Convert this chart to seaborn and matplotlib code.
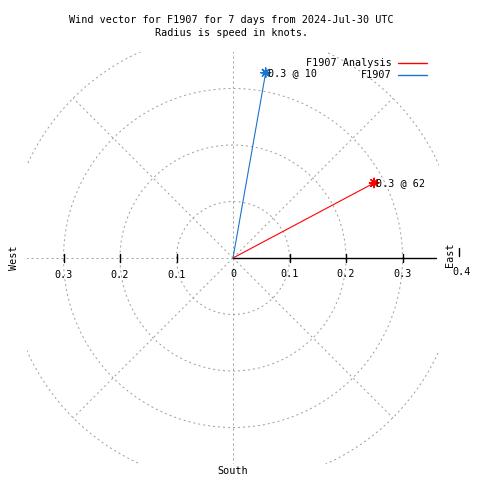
import numpy as np
import pandas as pd
import seaborn as sns
from matplotlib import pyplot as plt
from matplotlib.patches import Circle, Rectangle

# wind vectors
names = ['F1907 Analysis', 'F1907']
speeds = [0.283, 0.333]        # knots
directions = [62, 10]          # degrees from north
labels = ['0.3 @ 62', '0.3 @ 10']
colors = {'F1907 Analysis': '#ff0000', 'F1907': '#1874cd'}

ring_radii = [0.1, 0.2, 0.3, 0.4]
west_ticks = [0.3, 0.2, 0.1]
east_ticks = [0.1, 0.2, 0.3]

sns.set_style('white')
plt.rcParams['font.family'] = ['DejaVu Sans Mono']
plt.rcParams['text.color'] = 'black'
FS = 7.3
GRID = dict(color='#a0a0a0', lw=0.72, ls=(0, (2, 3)))

fig = plt.figure(figsize=(4.8, 4.8), dpi=100)
ax = fig.add_axes([0, 0, 1, 1])

# plot box used to clip the polar grid
lim = 0.365
box = Rectangle((-lim, -lim), 2 * lim, 2 * lim, transform=ax.transData, fill=False, visible=False)
ax.add_patch(box)

for r in ring_radii:
    c = Circle((0, 0), r, fill=False, **GRID)
    ax.add_patch(c)
    c.set_clip_path(box)

for ang in range(45, 360, 45):
    a = np.deg2rad(ang)
    ln, = ax.plot([0, 0.4 * np.cos(a)], [0, 0.4 * np.sin(a)], **GRID)
    ln.set_clip_path(box)

# radial axis
ax.plot([0, 0.36], [0, 0], color='black', lw=1.0)
for t in east_ticks:
    ax.plot([t, t], [-0.007, 0.007], color='black', lw=1.0)
    ax.text(t, -0.029, f'{t:g}', ha='center', va='center', fontsize=FS)
for t in west_ticks:
    ax.plot([-t, -t], [-0.007, 0.007], color='black', lw=1.0)
    ax.text(-t, -0.030, f'{t:g}', ha='center', va='center', fontsize=FS)
ax.text(0, -0.029, '0', ha='center', va='center', fontsize=FS)
ax.plot([0.4, 0.4], [0.003, 0.018], color='black', lw=1.0)
ax.text(0.405, -0.025, '0.4', ha='center', va='center', fontsize=FS)

ax.text(0.384, 0.005, 'East', rotation=90, ha='center', va='center', fontsize=FS)
ax.text(-0.388, 0.0, 'West', rotation=90, ha='center', va='center', fontsize=FS)
ax.text(0, -0.377, 'South', ha='center', va='center', fontsize=FS)

# vectors
rad = np.deg2rad(directions)
ends = pd.DataFrame({
    'name': names,
    'x': np.array(speeds) * np.sin(rad),
    'y': np.array(speeds) * np.cos(rad),
    'label': labels,
})
lines = pd.concat([ends.assign(x=0.0, y=0.0), ends], ignore_index=True)

sns.lineplot(data=lines, x='x', y='y', hue='name', units='name', estimator=None,
             sort=False, palette=colors, lw=0.8, legend=False, ax=ax)
sns.scatterplot(data=ends, x='x', y='y', hue='name', palette=colors,
                marker=(8, 2, 0), s=45, linewidth=1.0, legend=False, ax=ax)
for _, row in ends.iterrows():
    ax.text(row.x + 0.004, row.y, row.label, ha='left', va='center', fontsize=FS)

ax.set_xlim(-233 / 565, 247 / 565)
ax.set_ylim(-222 / 565, 258 / 565)
ax.set_axis_off()

# legend, gnuplot style: text then line sample
for i, n in enumerate(names):
    yy = 1 - (63 + 12 * i) / 480
    fig.text(392 / 480, yy, n, ha='right', va='center', fontsize=FS)
    fig.add_artist(plt.Line2D([398 / 480, 427 / 480], [yy, yy], color=colors[n], lw=1.0))

fig.text(231.5 / 480, 1 - 20 / 480, 'Wind vector for F1907 for 7 days from 2024-Jul-30 UTC',
         ha='center', va='center', fontsize=FS)
fig.text(231.5 / 480, 1 - 33 / 480, 'Radius is speed in knots.', ha='center', va='center', fontsize=FS)

fig.savefig('out.png', dpi=100)
